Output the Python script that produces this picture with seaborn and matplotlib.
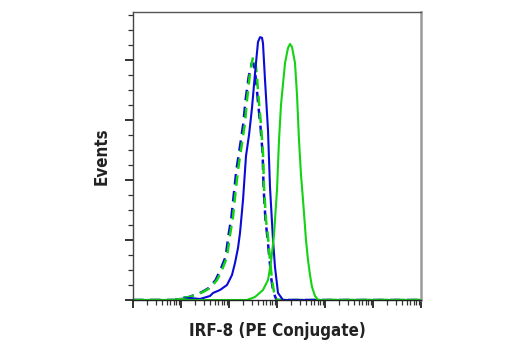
import numpy as np
import pandas as pd
import matplotlib
matplotlib.use("Agg")
import matplotlib.pyplot as plt
from matplotlib.ticker import LogLocator, MultipleLocator, NullFormatter
from matplotlib import font_manager
import seaborn as sns

# ---- data (log10 intensity, relative event count) ----
blue_solid_logx = [0.0, 0.875, 0.979, 1.1875, 1.396, 1.604, 1.667, 1.8125, 1.958, 2.0625,
                   2.125, 2.1875, 2.229, 2.292, 2.354, 2.417, 2.479, 2.542, 2.604, 2.646,
                   2.6875, 2.708, 2.75, 2.8125, 2.854, 2.917, 2.958, 3.021, 3.125, 6.0]
blue_solid_y = [0.0, 0.0, 0.017, 0.033, 0.017, 0.067, 0.117, 0.167, 0.25, 0.417,
                0.617, 0.867, 1.117, 1.667, 2.4, 2.75, 3.2, 3.78, 4.3, 4.38,
                4.37, 4.28, 3.67, 2.83, 1.88, 1.0, 0.55, 0.117, 0.0, 0.0]

green_dash_logx = [0.0, 0.875, 0.979, 1.1875, 1.458, 1.604, 1.75, 1.854, 1.958, 2.021,
                   2.083, 2.125, 2.1875, 2.271, 2.333, 2.375, 2.4375, 2.5, 2.542, 2.583,
                   2.625, 2.667, 2.708, 2.729, 2.771, 2.8125, 2.854, 2.896, 2.9375, 3.0, 6.0]
green_dash_y = [0.0, 0.0, 0.033, 0.05, 0.133, 0.2, 0.333, 0.5, 0.717, 1.083,
                1.383, 1.717, 2.167, 2.617, 2.95, 3.333, 3.783, 4.05, 4.033, 3.717,
                3.283, 2.917, 2.45, 1.883, 1.333, 1.05, 0.667, 0.333, 0.133, 0.0, 0.0]

blue_dash_logx = [0.0, 0.875, 0.96, 1.17, 1.43, 1.58, 1.72, 1.82, 1.93, 1.99,
                  2.05, 2.095, 2.155, 2.24, 2.30, 2.345, 2.41, 2.475, 2.52, 2.565,
                  2.61, 2.655, 2.70, 2.72, 2.76, 2.80, 2.845, 2.885, 2.925, 2.99, 6.0]
blue_dash_y = [0.0, 0.0, 0.03, 0.05, 0.13, 0.2, 0.33, 0.5, 0.72, 1.08,
               1.38, 1.72, 2.17, 2.62, 2.95, 3.33, 3.72, 3.95, 3.93, 3.65,
               3.25, 2.9, 2.45, 1.88, 1.33, 1.05, 0.67, 0.33, 0.13, 0.0, 0.0]

green_solid_logx = [0.0, 0.875, 0.979, 1.1875, 2.375, 2.542, 2.708, 2.8125, 2.875, 2.9375,
                    3.0, 3.042, 3.083, 3.167, 3.229, 3.271, 3.3125, 3.375, 3.417, 3.458,
                    3.5, 3.542, 3.604, 3.646, 3.6875, 3.729, 3.792, 3.854, 6.0]
green_solid_y = [0.0, 0.0, 0.02, 0.0, 0.0, 0.05, 0.167, 0.333, 0.633, 1.083,
                 1.833, 2.667, 3.25, 3.95, 4.2, 4.267, 4.217, 3.95, 3.417, 2.667,
                 2.083, 1.667, 1.0, 0.667, 0.417, 0.217, 0.067, 0.0, 0.0]

x_label = "IRF-8 (PE Conjugate)"
y_label = "Events"

BLUE = "#0b0bd6"
GREEN = "#14d214"

sns.set_style("white")

# pick a condensed bold face if one is installed
label_font = None
for f in font_manager.fontManager.ttflist:
    name = f.fname.lower()
    if ("condensed" in name or "narrow" in name) and ("bold" in name) and "oblique" not in name and "italic" not in name:
        label_font = f.fname
        break
if label_font is not None:
    fp = font_manager.FontProperties(fname=label_font, size=12.2)
    fp_w = {"fontproperties": fp}
else:
    fp_w = {"family": ["Roboto", "DejaVu Sans"], "fontsize": 11.3, "fontweight": "bold"}

fig = plt.figure(figsize=(5.2, 3.5), dpi=100)
ax = fig.add_axes([133/520, 1 - 300/350, (421-133)/520, (300-12)/350])

def frame(lx, ly):
    return pd.DataFrame({"x": 10 ** np.asarray(lx), "y": ly})

dash = (0, (4.2, 2.6))
sns.lineplot(data=frame(blue_dash_logx, blue_dash_y), x="x", y="y", ax=ax,
             color=BLUE, lw=1.8, linestyle=dash, sort=False)
sns.lineplot(data=frame(green_dash_logx, green_dash_y), x="x", y="y", ax=ax,
             color=GREEN, lw=1.8, linestyle=dash, sort=False)
sns.lineplot(data=frame(blue_solid_logx, blue_solid_y), x="x", y="y", ax=ax,
             color=BLUE, lw=1.5, sort=False)
sns.lineplot(data=frame(green_solid_logx, green_solid_y), x="x", y="y", ax=ax,
             color=GREEN, lw=1.5, sort=False)

ax.set_xscale("log")
ax.set_xlim(1, 1e6)
ax.set_ylim(0, 4.8)
ax.xaxis.set_major_locator(LogLocator(base=10, numticks=10))
ax.xaxis.set_minor_locator(LogLocator(base=10, subs=np.arange(2, 10), numticks=20))
ax.xaxis.set_major_formatter(NullFormatter())
ax.xaxis.set_minor_formatter(NullFormatter())
ax.yaxis.set_major_locator(MultipleLocator(1))
ax.yaxis.set_minor_locator(MultipleLocator(0.25))
ax.yaxis.set_major_formatter(NullFormatter())

ax.tick_params(axis="both", which="major", direction="out", length=6, width=1.3,
               color="#222222", bottom=True, left=True, top=False, right=False)
ax.tick_params(axis="both", which="minor", direction="out", length=3.5, width=0.9,
               color="#333333", bottom=True, left=True, top=False, right=False)

for side, c, w in [("left", "#444444", 1.0), ("top", "#555555", 1.0),
                   ("right", "#9a9a9a", 1.8), ("bottom", "#222222", 1.0)]:
    ax.spines[side].set_visible(True)
    ax.spines[side].set_color(c)
    ax.spines[side].set_linewidth(w)

ax.set_xlabel(x_label, color="#222222", **fp_w)
ax.set_ylabel(y_label, color="#222222", **fp_w)
ax.xaxis.set_label_coords(0.5, -0.075)
ax.yaxis.set_label_coords(-0.078, 0.5)

fig.savefig("out.png", dpi=100)
